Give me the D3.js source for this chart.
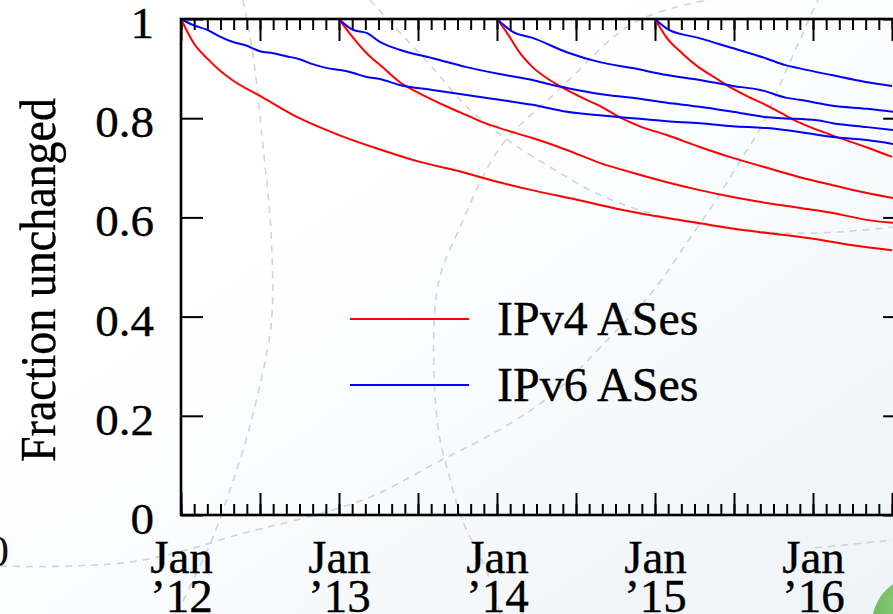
<!DOCTYPE html>
<html><head><meta charset="utf-8">
<script src="https://cdn.jsdelivr.net/npm/d3@7"></script>
<style>html,body{margin:0;padding:0;background:#fff;overflow:hidden} svg{display:block}</style>
</head><body><svg id="c" width="893" height="614"></svg>
<script>
// ---- data (months since cohort start, fraction unchanged) ----
const cohortYears = [2012, 2013, 2014, 2015];
const ipv4_2012 = [[0,1],[1,0.950],[2,0.920],[3,0.895],[4,0.875],[6,0.845],[9,0.800],[12,0.766],[15,0.738],[18,0.713],[21,0.694],[24,0.672],[27,0.653],[30,0.636],[33,0.618],[36,0.603],[39,0.590],[42,0.577],[45,0.567],[48,0.557],[51,0.544],[54,0.534]];
const ipv4_2013 = [[0,1],[0.84,0.970],[2.1,0.931],[3.3,0.903],[4.6,0.873],[5.9,0.853],[7.1,0.837],[8.4,0.821],[9.7,0.806],[10.9,0.792],[12.2,0.780],[14.7,0.760],[17.3,0.736],[19.8,0.710],[22.3,0.690],[24.9,0.671],[27.4,0.655],[29.9,0.641],[32.5,0.629],[35,0.619],[37.5,0.609],[40.1,0.595],[42.1,0.589]];
const ipv4_2014 = [[0,1],[0.76,0.972],[1.75,0.931],[2.7,0.903],[4,0.877],[5.3,0.857],[6.8,0.837],[7.8,0.825],[9.3,0.802],[10.8,0.784],[12.9,0.766],[15.4,0.742],[17.9,0.720],[20.5,0.700],[23,0.681],[25.5,0.665],[28.1,0.649],[30.1,0.639]];
const ipv4_2015 = [[0,1],[0.84,0.964],[2.05,0.931],[3.3,0.903],[4.6,0.881],[5.8,0.861],[7.1,0.843],[8.4,0.827],[9.6,0.810],[10.9,0.792],[13.4,0.766],[16,0.742],[18,0.722]];
const ipv6_2012 = [[0,1],[0.9,0.988],[2,0.978],[3,0.964],[3.9,0.954],[5,0.946],[6,0.935],[7,0.931],[8,0.925],[9,0.919],[10,0.909],[11.1,0.901],[12.1,0.897],[13.1,0.891],[14.1,0.883],[15.1,0.879],[16.6,0.867],[19.1,0.857],[21.7,0.847],[24.2,0.837],[26.7,0.827],[29.3,0.813],[31.8,0.806],[34.3,0.800],[36.9,0.794],[39.4,0.790],[41.9,0.784],[44.5,0.780],[47,0.772],[49.5,0.762],[52.1,0.756],[54.1,0.748]];
const ipv6_2013 = [[0,1],[1.06,0.978],[2.1,0.972],[3.1,0.954],[4.6,0.938],[7.1,0.921],[9.7,0.903],[12.2,0.889],[14.7,0.877],[16.2,0.867],[17.3,0.861],[19.8,0.849],[22.3,0.841],[24.9,0.831],[27.4,0.823],[29.9,0.813],[32.5,0.802],[33.7,0.800],[36.3,0.796],[37.5,0.790],[40.1,0.782],[42.1,0.776]];
const ipv6_2014 = [[0,1],[1.2,0.974],[2.7,0.962],[5.3,0.933],[7.8,0.913],[10.3,0.901],[12.9,0.887],[15.4,0.877],[17.9,0.865],[20,0.857],[22,0.841],[23,0.837],[25.5,0.825],[28.1,0.819],[30.1,0.813]];
const ipv6_2015 = [[0,1],[1.06,0.978],[3.3,0.962],[5.8,0.942],[8.4,0.921],[9.9,0.907],[10.9,0.901],[13.4,0.887],[16,0.873],[18,0.865]];
const ipv4Series = [ipv4_2012, ipv4_2013, ipv4_2014, ipv4_2015];
const ipv6Series = [ipv6_2012, ipv6_2013, ipv6_2014, ipv6_2015];
const legendLabels = ["IPv4 ASes", "IPv6 ASes"];
const yTickValues = [0, 0.2, 0.4, 0.6, 0.8, 1];
const yTickLabels = ["0", "0.2", "0.4", "0.6", "0.8", "1"];
const xLabelYears = [2012, 2013, 2014, 2015, 2016];
const monthNames = ["Jan"];
const yTitle = "Fraction unchanged";

// decorative backdrop (faint dashed arcs of the slide background)
const backdropArcs = [
  [[243,0],[255,60],[263,150],[270,207],[273,273],[273,323],[263,373],[247,440],[230,490],[213,540],[193,580],[177,614]],
  [[0,566],[50,567],[100,565],[140,562],[200,547],[240,533],[300,520],[367,500],[400,483],[440,460],[483,440],[533,410],[567,383],[600,347],[647,300],[667,273],[693,233],[717,200],[740,160],[763,127],[783,77],[800,40],[813,10],[818,0]],
  [[500,614],[487,567],[467,533],[457,507],[447,467],[437,433],[433,367],[434,300],[442,265],[457,235],[477,187],[500,143],[533,113],[567,83],[600,48],[633,20],[680,5],[710,0]],
  [[370,0],[400,33],[433,67],[467,110],[507,140],[533,157],[567,177],[600,197],[667,220],[733,230],[800,235],[867,230],[893,227]],
  [[815,548],[893,540]]
];

// ---- layout ----
const W = 893, H = 614;
const L = 181, T = 19, B = 515;
const endYear = 2016 + 7/12;
const R = L + (endYear - 2012) * 158;
const FONT = "'Liberation Serif','Times New Roman',serif";
const svg = d3.select("#c");

const x = d3.scaleLinear().domain([2012, endYear]).range([L, R]);
const y = d3.scaleLinear().domain([0, 1]).range([B, T]);

// background
const defs = svg.append("defs");
const lg = defs.append("linearGradient").attr("id","bg").attr("x1","0").attr("y1","0").attr("x2","1").attr("y2","1");
lg.append("stop").attr("offset","0.35").attr("stop-color","#ffffff");
lg.append("stop").attr("offset","1").attr("stop-color","#eef3f7");
svg.append("rect").attr("width",W).attr("height",H).attr("fill","url(#bg)");
const rg = defs.append("radialGradient").attr("id","gr").attr("cx","0.35").attr("cy","0.3").attr("r","0.8");
rg.append("stop").attr("offset","0").attr("stop-color","#8fd07a");
rg.append("stop").attr("offset","1").attr("stop-color","#4a9f3c");
svg.append("circle").attr("cx",920).attr("cy",624).attr("r",48).attr("fill","url(#gr)");

const bline = d3.line().curve(d3.curveBasis);
svg.append("g").selectAll("path").data(backdropArcs).join("path")
  .attr("d", bline).attr("fill","none").attr("stroke","#c4cacd")
  .attr("stroke-width",1.6).attr("stroke-dasharray","7 6").attr("opacity",0.8);
svg.append("text").attr("x",9).attr("y",566).attr("text-anchor","end")
  .attr("font-family",FONT).attr("font-size",44).attr("fill","#111").text("0");

function stretch(sel, sx){
  sel.attr("transform", function(){
    const ax = +this.getAttribute("x") || 0;
    return `translate(${ax*(1-sx)},0) scale(${sx},1)`;
  });
}
function weight(sel){ sel.attr("stroke","#000").attr("stroke-width",0.35); }

// ---- axes ----
const months = d3.range(0, (endYear-2012)*12 + 0.01, 1).map(m => 2012 + m/12);
const halfYears = months.filter((d,i) => i % 6 === 0);
function styleAxis(g){ g.select(".domain").remove(); g.selectAll("line").attr("stroke","#000").attr("stroke-width",2); }

svg.append("g").attr("transform",`translate(0,${B})`)
  .call(d3.axisBottom(x).tickValues(months).tickSizeInner(-11).tickSizeOuter(0).tickFormat("")).call(styleAxis);
svg.append("g").attr("transform",`translate(0,${B})`)
  .call(d3.axisBottom(x).tickValues(halfYears).tickSizeInner(-22).tickSizeOuter(0).tickFormat("")).call(styleAxis);
svg.append("g").attr("transform",`translate(0,${T})`)
  .call(d3.axisTop(x).tickValues(months).tickSizeInner(-11).tickSizeOuter(0).tickFormat("")).call(styleAxis);
svg.append("g").attr("transform",`translate(0,${T})`)
  .call(d3.axisTop(x).tickValues(halfYears).tickSizeInner(-22).tickSizeOuter(0).tickFormat("")).call(styleAxis);
svg.append("g").attr("transform",`translate(${R},0)`)
  .call(d3.axisRight(y).tickValues(yTickValues).tickSizeInner(-22).tickSizeOuter(0).tickFormat("")).call(styleAxis);

const yAx = svg.append("g").attr("transform",`translate(${L},0)`)
  .call(d3.axisLeft(y).tickValues(yTickValues).tickSizeInner(-22).tickSizeOuter(0).tickPadding(27)
    .tickFormat((d,i) => yTickLabels[i])).call(styleAxis);
yAx.attr("font-family",FONT).attr("font-size",44);
yAx.selectAll("text").attr("fill","#000").attr("dy","0.42em").call(stretch, 1.07).call(weight);

// x labels (Jan / ’yy) via the bottom axis
const xAx = svg.append("g").attr("transform",`translate(0,${B})`)
  .call(d3.axisBottom(x).tickValues(xLabelYears).tickSize(0).tickPadding(0).tickFormat(""));
xAx.select(".domain").remove();
xAx.attr("font-family",FONT).attr("font-size",47);
xAx.selectAll(".tick text").each(function(d){
  const t = d3.select(this).attr("y",0).attr("dy",null).attr("fill","#000");
  t.append("tspan").attr("x",0).attr("y",58).text(monthNames[0]);
  t.append("tspan").attr("x",0).attr("y",97).text("\u2019" + String(d).slice(2));
}).call(weight);

// ---- series ----
const line = d3.line().curve(d3.curveMonotoneX)
  .x(d => x(d[0])).y(d => y(d[1]));
const plot = svg.append("g");
ipv4Series.forEach((s,i) => {
  plot.append("path").datum(s.map(p => [cohortYears[i] + p[0]/12, p[1]]))
    .attr("d", line).attr("fill","none").attr("stroke","#ff0000").attr("stroke-width",2);
});
ipv6Series.forEach((s,i) => {
  plot.append("path").datum(s.map(p => [cohortYears[i] + p[0]/12, p[1]]))
    .attr("d", line).attr("fill","none").attr("stroke","#0000ff").attr("stroke-width",2);
});

// frame
svg.append("rect").attr("x",L).attr("y",T).attr("width",R-L).attr("height",B-T)
  .attr("fill","none").attr("stroke","#000").attr("stroke-width",2.6);

// y title
svg.append("text").attr("transform",`translate(55,280) scale(1.12,1) rotate(-90)`)
  .attr("text-anchor","middle").attr("font-family",FONT).attr("font-size",46).attr("fill","#000")
  .text(yTitle).call(weight);

// legend
const legColors = ["#ff0000","#0000ff"];
const leg = svg.append("g");
legendLabels.forEach((lab,i) => {
  const ly = 319 + i*66;
  leg.append("line").attr("x1",350).attr("x2",469).attr("y1",ly).attr("y2",ly)
    .attr("stroke",legColors[i]).attr("stroke-width",2);
  leg.append("text").attr("x",497).attr("y",ly+16).attr("font-family",FONT).attr("font-size",48)
    .attr("fill","#000").text(lab).call(weight);
});
</script></body></html>
